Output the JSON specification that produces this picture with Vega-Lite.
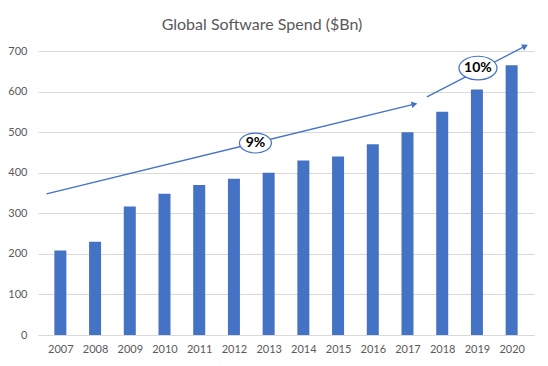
{
  "$schema": "https://vega.github.io/schema/vega-lite/v6.json",
  "width": 496,
  "height": 284,
  "autosize": {"type": "none"},
  "padding": {"left": 38, "top": 51, "right": 14, "bottom": 31},
  "background": "white",
  "title": {
    "text": "Global Software Spend ($Bn)",
    "font": "Lato",
    "fontSize": 16,
    "fontWeight": "normal",
    "color": "#595959",
    "anchor": "middle",
    "dx": -24,
    "offset": 11
  },
  "config": {
    "view": {"stroke": null},
    "axis": {"labelFont": "Lato", "labelFontSize": 11, "labelColor": "#595959"},
    "axisX": {"labelOverlap": false, "labelFlush": false, "labelBound": false}
  },
  "datasets": {
    "spend": [
      {"year": 2007, "value": 208},
      {"year": 2008, "value": 230},
      {"year": 2009, "value": 317},
      {"year": 2010, "value": 348},
      {"year": 2011, "value": 370},
      {"year": 2012, "value": 385},
      {"year": 2013, "value": 400},
      {"year": 2014, "value": 430},
      {"year": 2015, "value": 440},
      {"year": 2016, "value": 470},
      {"year": 2017, "value": 500},
      {"year": 2018, "value": 550},
      {"year": 2019, "value": 605},
      {"year": 2020, "value": 665}
    ],
    "arrows": [
      {"x": 2006.6, "y": 348, "x2": 2017.2, "y2": 569, "angle": 76.5},
      {"x": 2017.56, "y": 587, "x2": 2020.39, "y2": 712, "angle": 63}
    ],
    "labels": [
      {"x": 2012.62, "y": 473, "label": "9%", "w": 32},
      {"x": 2019.03, "y": 658, "label": "10%", "w": 38}
    ]
  },
  "encoding": {
    "x": {
      "type": "quantitative",
      "scale": {"domain": [2006.5, 2020.5], "nice": false, "zero": false},
      "axis": {
        "title": null,
        "values": [2007, 2008, 2009, 2010, 2011, 2012, 2013, 2014, 2015, 2016, 2017, 2018, 2019, 2020],
        "format": "d",
        "grid": false,
        "domain": true,
        "domainColor": "#d9d9d9",
        "ticks": false,
        "labelPadding": 8,
        "labelFlush": false,
        "labelOverlap": false
      }
    },
    "y": {
      "type": "quantitative",
      "scale": {"domain": [0, 700], "nice": false},
      "axis": {
        "title": null,
        "values": [0, 100, 200, 300, 400, 500, 600, 700],
        "domain": false,
        "ticks": false,
        "gridColor": "#d9d9d9",
        "labelPadding": 11
      }
    }
  },
  "layer": [
    {
      "data": {"name": "spend"},
      "mark": {"type": "bar", "color": "#4472c4", "size": 12},
      "encoding": {
        "x": {"field": "year"},
        "y": {"field": "value"}
      }
    },
    {
      "data": {"name": "arrows"},
      "mark": {"type": "rule", "color": "#4472c4", "strokeWidth": 1.3, "clip": false},
      "encoding": {
        "x": {"field": "x"},
        "y": {"field": "y"},
        "x2": {"field": "x2"},
        "y2": {"field": "y2"}
      }
    },
    {
      "data": {"name": "arrows"},
      "mark": {"type": "point", "shape": "triangle-up", "filled": true, "color": "#4472c4", "size": 45, "opacity": 1, "clip": false},
      "encoding": {
        "x": {"field": "x2"},
        "y": {"field": "y2"},
        "angle": {"field": "angle", "type": "quantitative", "scale": null}
      }
    },
    {
      "data": {"name": "labels"},
      "mark": {
        "type": "point",
        "shape": "M-1,0 A1,0.62 0 1,0 1,0 A1,0.62 0 1,0 -1,0 Z",
        "filled": false,
        "fill": "white",
        "fillOpacity": 1,
        "stroke": "#4472c4",
        "strokeWidth": 1.2,
        "opacity": 1
      },
      "encoding": {
        "x": {"field": "x"},
        "y": {"field": "y"},
        "size": {"field": "w", "type": "quantitative", "scale": {"type": "pow", "exponent": 2, "domain": [32, 38], "range": [1024, 1444]}, "legend": null}
      }
    },
    {
      "data": {"name": "labels"},
      "mark": {"type": "text", "font": "Lato", "fontSize": 14, "fontWeight": "bold", "color": "black"},
      "encoding": {
        "x": {"field": "x"},
        "y": {"field": "y"},
        "text": {"field": "label"}
      }
    }
  ]
}
